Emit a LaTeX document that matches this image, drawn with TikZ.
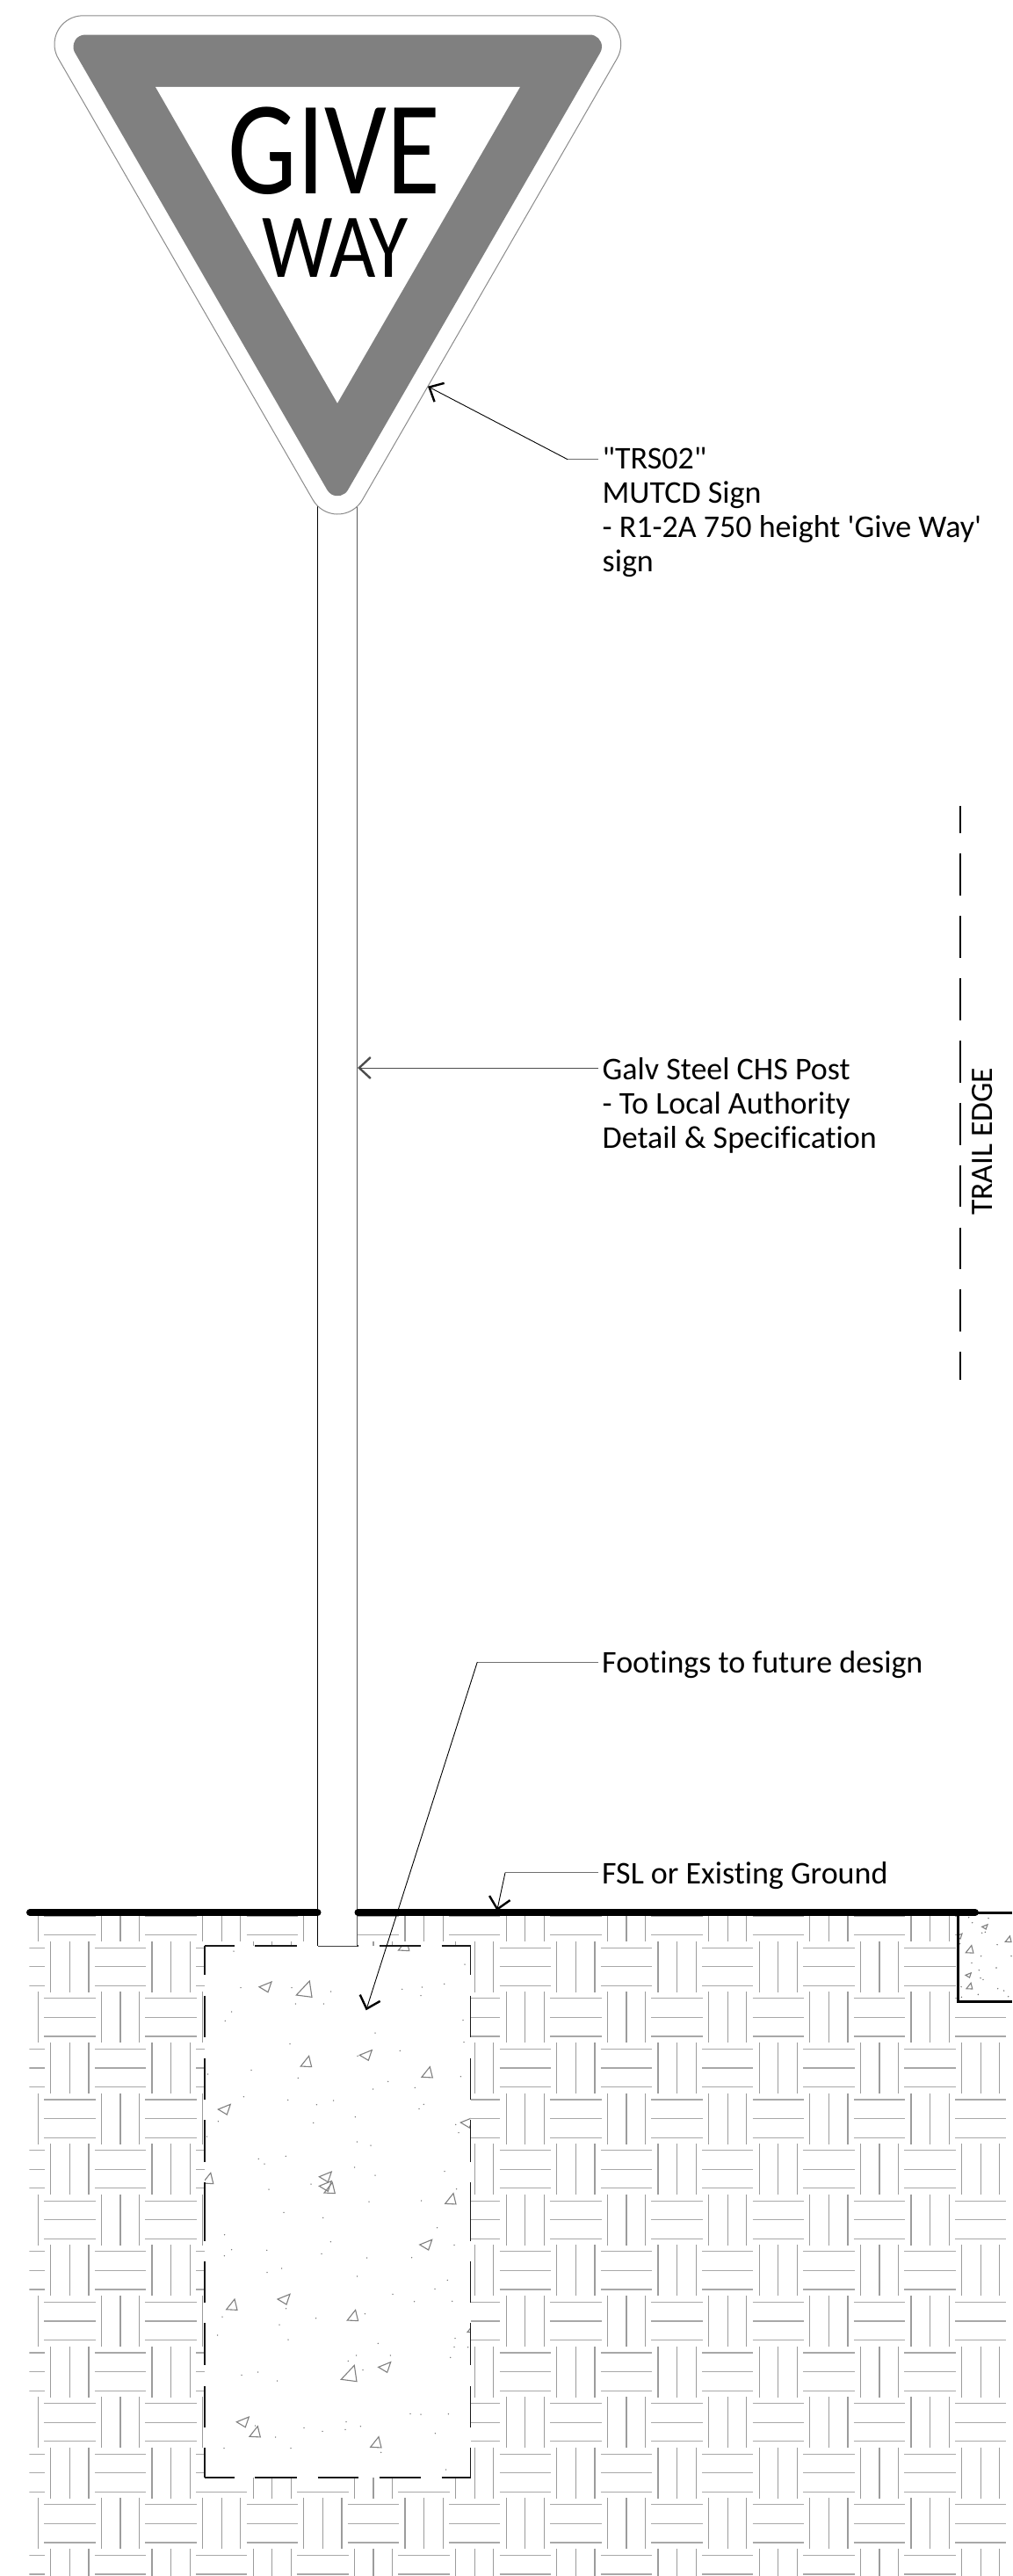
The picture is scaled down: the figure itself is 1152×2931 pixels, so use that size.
\documentclass[tikz,border=0pt]{standalone}
\usepackage{fontspec}
\setmainfont[Ligatures={TeXOff,NoCommon}]{Carlito}
\usetikzlibrary{calc,arrows.meta}
\definecolor{hatchv}{HTML}{9C9C9C}
\definecolor{hatchh}{HTML}{A8A8A8}
\definecolor{signgrey}{HTML}{808080}
\definecolor{outlinegrey}{HTML}{8C8C8C}
\definecolor{trigrey}{HTML}{808080}
\definecolor{dotgrey}{HTML}{707070}
\definecolor{leadgrey}{HTML}{707070}
\newcommand{\triA}[3]{\draw[trishape,shift={(#1,#2)},scale=#3] (0,0) -- (14,-5.7) -- (10,6) -- cycle;}
\newcommand{\triB}[3]{\draw[trishape,shift={(#1,#2)},scale=#3] (0,0) -- (9.3,-11.7) -- (12.3,0.6) -- cycle;}
\newcommand{\triC}[3]{\draw[trishape,shift={(#1,#2)},scale=#3] (0,0) -- (15,-16) -- (17.7,2.3) -- cycle;}
\newcommand{\lbl}[1]{\begin{tabular}[t]{@{}l@{}}#1\end{tabular}}
\tikzset{
  hatchline v/.style={draw=hatchv,line width=1.1pt},
  hatchline h/.style={draw=hatchh,line width=1.2pt},
  trishape/.style={draw=trigrey,line width=1.1pt,line join=miter},
  footingline/.style={draw=black!90,line width=1.4pt},
  groundline/.style={draw=black,line width=8pt,line cap=round},
  leadline/.style={draw=leadgrey,line width=1pt},
  leadarrow/.style={draw=black,line width=.9pt,-{Straight Barb[length=13pt,width=24pt,line width=2.4pt]}},
  label/.style={inner sep=0pt,font=\fontsize{36}{39}\selectfont,anchor=base west},
}
\begin{document}
\begin{tikzpicture}[x=1pt,y=-1pt]
\useasboundingbox (0,0) rectangle (1152,2931);
\fill[white] (0,0) rectangle (1152,2931);
% ---- ground hatch
\begin{scope}
\clip (33.3,2179) rectangle (1152,2931);
\foreach \i in {0,...,19}{
  \foreach \j in {0,...,13}{
    \pgfmathtruncatemacro{\odd}{mod(\i+\j,2)}
    \pgfmathsetmacro{\cx}{21.8+57.6*\i}
    \pgfmathsetmacro{\cy}{2180.1+57.6*\j}
    \ifnum\odd=0
      \foreach \k in {-21.6,0,21.6}{
        \draw[hatchline v] ({\cx+\k},{\cy-29}) -- ({\cx+\k},{\cy+29});
      }
    \else
      \foreach \k in {-21.6,0,21.6}{
        \draw[hatchline h] ({\cx-29.2},{\cy+\k}) -- ({\cx+29.2},{\cy+\k});
      }
    \fi
  }
}
\end{scope}
% ---- main footing
\fill[white] (233,2214) rectangle (535.7,2819);
\begin{scope}
\clip (233,2214) rectangle (535.7,2819);
\triA{295}{2260.7}{1}
\triC{337.3}{2270}{1}
\triB{453.5}{2219}{1}
\triA{409.3}{2338.3}{1}
\triB{342.3}{2351}{1}
\triB{480}{2363.3}{1}
\triA{248.3}{2400}{1}
\triA{524.3}{2415}{1}
\triB{230.5}{2484}{1}
\triA{363.3}{2476.7}{1}
\triA{363.3}{2487.3}{1}
\triB{369}{2495}{1}
\triB{506.7}{2507.3}{1}
\triA{477.7}{2554}{1}
\triB{257.7}{2627.7}{1}
\triA{316}{2616}{1}
\triB{395.3}{2640}{1}
\triA{430.7}{2693.3}{1}
\triC{388.3}{2707.3}{1}
\triA{269.3}{2755.7}{1}
\triB{284}{2772.3}{1}
\triB{421.7}{2784.3}{1}
\triB{532}{2653.5}{.35}
\foreach \x/\y in {198/60,987/105,222/185,396/185,530/198,773/190,841/183,837/212,917/172,409/240,505/240,191/267,169/298,981/296,681/339,390/377,984/371,766/400,621/418,258/466,110/480,418/493,973/488,725/505,674/531,817/526,232/557,383/568,539/570,481/584,847/583,831/598,613/626,470/646,145/641,956/652,966/680,106/693,619/711,666/723,376/760,283/769,303/786,611/798,918/812,681/825,462/855,318/873,959/872,660/915,839/912,369/952,503/970,893/1004,167/1028,529/1052,951/1063,191/1079,311/1081,498/1093,166/1100,653/1107,806/1106,312/1157,362/1143,620/1170,928/1183,885/1213,741/1231,815/1256,944/1255,377/1280,646/1298,159/1308,479/1313,354/1335,143/1371,384/1386,691/1399,954/1382,951/1411,998/1412,617/1440,733/1440,589/1459,938/1447,639/1490,281/1497}{
  \fill[dotgrey] ({200+\x/3},{2200+\y/3}) circle (.75);
}
\foreach \x/\y in {225/607,347/627,801/739,837/741,931/740,582/767,579/793,631/782,438/787,501/799,272/780,341/819,886/806,165/857,393/857,701/871,923/930}{
  \fill[dotgrey] ({200+\x/3},{2500+\y/3}) circle (.75);
}
\end{scope}
% footing dashed outline
\foreach \a/\b in {233/266.7,290/337.7,361.7/408,431.7/479.3,502.7/535.7}{
  \draw[footingline] (\a,2214) -- (\b,2214);
  \draw[footingline] (\a,2819) -- (\b,2819);
}
\foreach \a/\b in {2214/2247,2270.7/2318.3,2341.7/2389,2412.3/2460,2483.3/2549.7,2572.7/2620,2643/2691,2715/2762,2785/2819}{
  \draw[footingline] (233,\a) -- (233,\b);
  \draw[footingline] (535.7,\a) -- (535.7,\b);
}
% ---- right footing
\fill[white] (1090.7,2176) rectangle (1152,2277.3);
\begin{scope}
\clip (1090.7,2176) rectangle (1152,2277.3);
\triA{1117.7}{2192.3}{.45}
\triB{1144.3}{2209.3}{.55}
\triB{1099.3}{2221.7}{.7}
\triA{1099}{2247.3}{.45}
\triB{1100}{2262.7}{.55}
\triA{1088}{2203}{.5}
\foreach \x/\y in {68/50,80/68,135/53,113/103,124/100,38/140,165/143,110/182,213/182,78/205,103/230,162/222,108/257,117/262,42/287,167/293,188/300,203/320,100/313,43/322}{
  \fill[dotgrey] ({1080+\x/3},{2165+\y/3}) circle (.8);
}
\end{scope}
\draw[draw=black,line width=3pt] (1152,2176.5) -- (1090.7,2176.5) -- (1090.7,2277.3) -- (1152,2277.3);
% ---- post
\fill[white] (361.7,560) rectangle (406.8,2214);
\draw[draw=black,line width=1pt] (361.7,560) -- (361.7,2214);
\draw[draw=black!65,line width=1pt] (406.8,560) -- (406.8,2214);
\draw[draw=black!75,line width=1pt] (361.7,2214) -- (406.8,2214);
% ---- ground
\draw[groundline] (34,2176) -- (361.5,2176);
\draw[groundline] (407.5,2176) -- (1110,2176);
% ---- sign
\coordinate (oa) at (94.5,50.3);
\coordinate (ob) at (674.2,50.3);
\coordinate (oc) at (384.3,552.5);
\draw[draw=outlinegrey,line width=1pt,fill=white]
  ($(oa)+(150:32.5)$) arc[start angle=150,end angle=270,radius=32.5]
  -- ($(ob)+(270:32.5)$) arc[start angle=270,end angle=390,radius=32.5]
  -- ($(oc)+(30:32.5)$) arc[start angle=30,end angle=150,radius=32.5] -- cycle;
\coordinate (ga) at (97,53.1);
\coordinate (gb) at (671.4,53.1);
\coordinate (gc) at (384.2,550.7);
\fill[signgrey]
  ($(ga)+(150:13.6)$) arc[start angle=150,end angle=270,radius=13.6]
  -- ($(gb)+(270:13.6)$) arc[start angle=270,end angle=390,radius=13.6]
  -- ($(gc)+(30:13.6)$) arc[start angle=30,end angle=150,radius=13.6] -- cycle;
\fill[white] (177,98.9) -- (591.9,98.9) -- (384,458.7) -- cycle;
\node[anchor=base,inner sep=0pt,xscale=.82,font=\fontsize{152}{152}\selectfont] (give) at (380.5,220.6) {GIVE};
\node[anchor=base,inner sep=0pt,xscale=.87,font=\fontsize{104}{104}\selectfont] (way) at (381.7,315.5) {WAY};
% ---- trail edge
\draw[draw=black,line width=1.1pt,dash pattern=on 47.8pt off 23.1pt,dash phase=16.8pt] (1093,917) -- (1093,1569.6);
\node[anchor=base west,rotate=90,inner sep=0pt,font=\fontsize{35.5}{35.5}\selectfont] (trail) at (1129.3,1383) {TRAIL EDGE};
% ---- labels
\node[label] (trs) at (685.5,533.3) {\lbl{"TRS02"\\MUTCD Sign\\- R1-2A 750 height 'Give Way'\\sign}};
\node[label] (galv) at (685.5,1228.3) {\lbl{Galv Steel CHS Post\\- To Local Authority\\Detail \& Specification}};
\node[label] (foot) at (685,1903.3) {Footings to future design};
\node[label] (fsl) at (685,2143.3) {FSL or Existing Ground};
% ---- leaders
\coordinate (trsS) at (681,522.7);
\coordinate (trsK) at (646,522.7);
\coordinate (trsT) at (487,439.7);
\coordinate (galvS) at (681,1215);
\coordinate (galvT) at (407,1215);
\coordinate (footS) at (681,1891);
\coordinate (footK) at (543.3,1891);
\coordinate (footT) at (416.7,2287.3);
\coordinate (fslS) at (681,2130.7);
\coordinate (fslK) at (575,2130.7);
\coordinate (fslT) at (565.7,2174);
\draw[leadline] (trsS) -- (trsK);
\draw[leadarrow] (trsK) -- (trsT);
\draw[leadarrow,draw=black!70] (galvS) -- (galvT);
\draw[leadline] (footS) -- (footK);
\draw[leadarrow] (footK) -- (footT);
\draw[leadline] (fslS) -- (fslK);
\draw[leadarrow] (fslK) -- (fslT);
\end{tikzpicture}
\end{document}
